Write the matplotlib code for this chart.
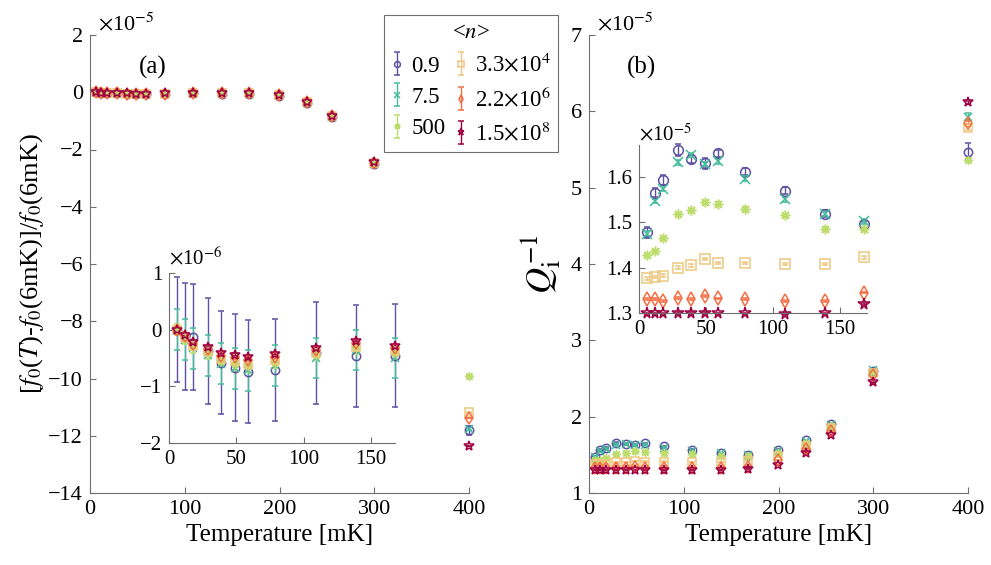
import numpy as np
import matplotlib
matplotlib.use('Agg')
import matplotlib.pyplot as plt
from matplotlib.lines import Line2D

plt.rcParams['font.family'] = ['Liberation Serif', 'DejaVu Serif']
plt.rcParams['mathtext.fontset'] = 'stix'

# temperatures [mK]
temps = [6, 12, 18, 29, 39, 49, 59, 79, 109, 139, 168, 199, 229, 255, 300, 400]
labels = ['0.9', '7.5', '500', r'3.3$\times$10$^4$', r'2.2$\times$10$^6$', r'1.5$\times$10$^8$']
colors = ['#5e4fa2', '#45bd9c', '#bcdc6c', '#eec67e', '#f46d43', '#9e0142']
markers = ['o', 'x', (8, 2, 0), 's', 'd', '*']

# (a) frequency shift, units of 1e-6
df_09 = [0, -0.12, -0.13, -0.38, -0.58, -0.67, -0.74, -0.71, -0.42, -0.46, -0.46, -1.2, -3.7, -8.6, -25.0, -118.1]
df_75 = [0, -0.18, -0.33, -0.45, -0.60, -0.68, -0.72, -0.63, -0.50, -0.36, -0.50, -1.1, -3.6, -8.5, -24.9, -117.5]
df_500 = [0, -0.16, -0.31, -0.42, -0.55, -0.61, -0.65, -0.58, -0.44, -0.33, -0.42, -1.0, -3.5, -8.4, -24.7, -99.0]
df_3e4 = [0, -0.14, -0.28, -0.39, -0.52, -0.56, -0.60, -0.54, -0.41, -0.30, -0.38, -1.0, -3.5, -8.4, -24.7, -111.8]
df_2e6 = [0, -0.12, -0.25, -0.34, -0.46, -0.49, -0.53, -0.48, -0.36, -0.24, -0.33, -0.9, -3.5, -8.3, -24.6, -113.9]
df_1e8 = [0, -0.10, -0.22, -0.30, -0.41, -0.44, -0.48, -0.43, -0.32, -0.20, -0.29, -0.9, -3.4, -8.2, -24.5, -123.7]

dferr_09 = [0.93, 0.94, 0.94, 0.93, 0.91, 0.94, 0.91, 0.90, 0.90, 0.90, 0.91, 0.95, 0.97, 1.0, 1.1, 1.5]
dferr_75 = [0.36, 0.36, 0.36, 0.36, 0.36, 0.36, 0.36, 0.36, 0.36, 0.36, 0.36, 0.38, 0.40, 0.42, 0.45, 0.6]
dferr_500 = [0.10, 0.10, 0.10, 0.10, 0.10, 0.10, 0.10, 0.10, 0.10, 0.10, 0.10, 0.1, 0.1, 0.1, 0.1, 0.2]
dferr_3e4 = [0.05, 0.05, 0.05, 0.05, 0.05, 0.05, 0.05, 0.05, 0.05, 0.05, 0.05, 0.05, 0.05, 0.05, 0.05, 0.1]
dferr_2e6 = [0.03, 0.03, 0.03, 0.03, 0.03, 0.03, 0.03, 0.03, 0.03, 0.03, 0.03, 0.03, 0.03, 0.03, 0.03, 0.05]
dferr_1e8 = [0.02, 0.02, 0.02, 0.02, 0.02, 0.02, 0.02, 0.02, 0.02, 0.02, 0.02, 0.02, 0.02, 0.02, 0.02, 0.03]

# (b) inverse internal Q, units of 1e-5
q_09 = [1.478, 1.565, 1.593, 1.659, 1.639, 1.630, 1.652, 1.611, 1.569, 1.519, 1.495, 1.56, 1.69, 1.90, 2.60, 5.47]
q_75 = [1.475, 1.547, 1.574, 1.632, 1.648, 1.628, 1.634, 1.596, 1.550, 1.519, 1.502, 1.55, 1.68, 1.89, 2.61, 5.93]
q_500 = [1.428, 1.436, 1.465, 1.517, 1.526, 1.544, 1.541, 1.530, 1.515, 1.486, 1.486, 1.53, 1.66, 1.88, 2.59, 5.36]
q_3e4 = [1.376, 1.379, 1.382, 1.400, 1.405, 1.419, 1.410, 1.410, 1.408, 1.408, 1.423, 1.48, 1.62, 1.85, 2.57, 5.78]
q_2e6 = [1.330, 1.330, 1.327, 1.333, 1.330, 1.337, 1.332, 1.330, 1.326, 1.326, 1.345, 1.43, 1.58, 1.81, 2.54, 5.85]
q_1e8 = [1.299, 1.299, 1.299, 1.300, 1.300, 1.300, 1.299, 1.299, 1.298, 1.299, 1.319, 1.37, 1.53, 1.76, 2.45, 6.12]

qerr_09 = [0.012, 0.010, 0.010, 0.013, 0.008, 0.012, 0.008, 0.008, 0.008, 0.008, 0.008, 0.01, 0.01, 0.02, 0.03, 0.11]
qerr_75 = [0.005, 0.005, 0.005, 0.005, 0.005, 0.005, 0.005, 0.005, 0.005, 0.005, 0.005, 0.005, 0.01, 0.01, 0.02, 0.05]
qerr_500 = [0.003, 0.003, 0.003, 0.003, 0.003, 0.003, 0.003, 0.003, 0.003, 0.003, 0.003, 0.003, 0.005, 0.005, 0.01, 0.03]
qerr_3e4 = [0.003, 0.003, 0.003, 0.003, 0.003, 0.003, 0.003, 0.003, 0.003, 0.003, 0.003, 0.003, 0.005, 0.005, 0.01, 0.03]
qerr_2e6 = [0.002, 0.002, 0.002, 0.002, 0.002, 0.002, 0.002, 0.002, 0.002, 0.002, 0.002, 0.002, 0.003, 0.003, 0.005, 0.02]
qerr_1e8 = [0.002, 0.002, 0.002, 0.002, 0.002, 0.002, 0.002, 0.002, 0.002, 0.002, 0.002, 0.002, 0.003, 0.003, 0.005, 0.02]

df_all = [df_09, df_75, df_500, df_3e4, df_2e6, df_1e8]
dferr_all = [dferr_09, dferr_75, dferr_500, dferr_3e4, dferr_2e6, dferr_1e8]
q_all = [q_09, q_75, q_500, q_3e4, q_2e6, q_1e8]
qerr_all = [qerr_09, qerr_75, qerr_500, qerr_3e4, qerr_2e6, qerr_1e8]

n_inset = 11  # insets show the points up to 168 mK

W, H = 991, 565
fig = plt.figure(figsize=(W / 100, H / 100), dpi=100)


def px_axes(left, top, right, bottom):
    return fig.add_axes([left / W, 1 - bottom / H, (right - left) / W, (bottom - top) / H])


def style(ax, fs):
    for s in ['top', 'right']:
        ax.spines[s].set_visible(False)
    for s in ['left', 'bottom']:
        ax.spines[s].set_color('#6e6e6e')
        ax.spines[s].set_linewidth(0.8)
    ax.tick_params(direction='in', length=4, width=0.8, color='#6e6e6e', labelsize=fs, pad=5)
    ax.patch.set_alpha(0)


def draw(ax, ys, errs, scale, ms, n=None):
    handles = []
    x = temps[:n]
    for y, e, c, m in zip(ys, errs, colors, markers):
        y = np.array(y[:n]) * scale
        e = np.array(e[:n]) * scale
        h = ax.errorbar(x, y, yerr=e, linestyle='none', marker=m,
                        markersize=ms if m != '*' else ms + 1.5,
                        markerfacecolor='none', markeredgecolor=c, markeredgewidth=1.1,
                        ecolor=c, elinewidth=1.0, capsize=2.5, capthick=1.0, clip_on=False)
        handles.append(h)
    return handles


# ---- panel (a)
axa = px_axes(90, 35, 469, 493)
style(axa, 16)
draw(axa, df_all, dferr_all, 0.1, 6)
axa.set_xlim(0, 400)
axa.set_ylim(-14, 2)
axa.set_xticks([0, 100, 200, 300, 400])
axa.set_yticks(np.arange(-14, 3, 2))
axa.set_xlabel('Temperature [mK]', fontsize=18, labelpad=4)
axa.set_ylabel(r'[$f_0$($T$)-$f_0$(6mK)]/$f_0$(6mK)', fontsize=19, labelpad=2)
axa.text(0.02, 1.0, r'$\times$10$^{-5}$', transform=axa.transAxes, fontsize=16, va='bottom', ha='left')
axa.text(0.13, 0.93, '(a)', transform=axa.transAxes, fontsize=18, va='center')

# inset (a)
ia = px_axes(169, 273, 395, 443)
style(ia, 15)
draw(ia, df_all, dferr_all, 1.0, 6, n_inset)
ia.set_xlim(0, 168)
ia.set_ylim(-2, 1)
ia.set_xticks([0, 50, 100, 150])
ia.set_yticks([-2, -1, 0, 1])
ia.text(0.0, 1.02, r'$\times$10$^{-6}$', transform=ia.transAxes, fontsize=15, va='bottom', ha='left')

# ---- panel (b)
axb = px_axes(589, 35, 968, 493)
style(axb, 16)
handles = draw(axb, q_all, qerr_all, 1.0, 6)
axb.set_xlim(0, 400)
axb.set_ylim(1, 7)
axb.set_xticks([0, 100, 200, 300, 400])
axb.set_yticks(range(1, 8))
axb.set_xlabel('Temperature [mK]', fontsize=18, labelpad=4)
axb.set_ylabel(r'$Q_\mathrm{i}^{-1}$', fontsize=26, labelpad=6)
axb.text(0.02, 1.0, r'$\times$10$^{-5}$', transform=axb.transAxes, fontsize=16, va='bottom', ha='left')
axb.text(0.10, 0.93, '(b)', transform=axb.transAxes, fontsize=18, va='center')

# inset (b)
ib = px_axes(639, 145, 867, 313)
style(ib, 15)
draw(ib, q_all, qerr_all, 1.0, 7, n_inset)
ib.set_xlim(0, 170)
ib.set_ylim(1.3, 1.67)
ib.set_xticks([0, 50, 100, 150])
ib.set_yticks([1.3, 1.4, 1.5, 1.6])
ib.text(0.0, 1.0, r'$\times$10$^{-5}$', transform=ib.transAxes, fontsize=15, va='bottom', ha='left')

# legend
leg = fig.legend(handles, labels, ncol=2, title=r'<$n$>', title_fontsize=16.5, fontsize=16.5,
                 loc='upper left', bbox_to_anchor=(384 / W, 1 - 15 / H),
                 borderaxespad=0, fancybox=False, edgecolor='#6e6e6e',
                 framealpha=1, handlelength=0.5, handletextpad=0.4, columnspacing=0.4,
                 labelspacing=0.45, borderpad=0.3, markerscale=0.7)
leg.get_frame().set_linewidth(0.8)
fig.canvas.draw()
bb = leg.get_window_extent()
fig.add_artist(Line2D([bb.x0 / W, bb.x1 / W], [1 - 43 / H, 1 - 43 / H], color='#6e6e6e', lw=0.8))

fig.savefig('out.png', dpi=100)
